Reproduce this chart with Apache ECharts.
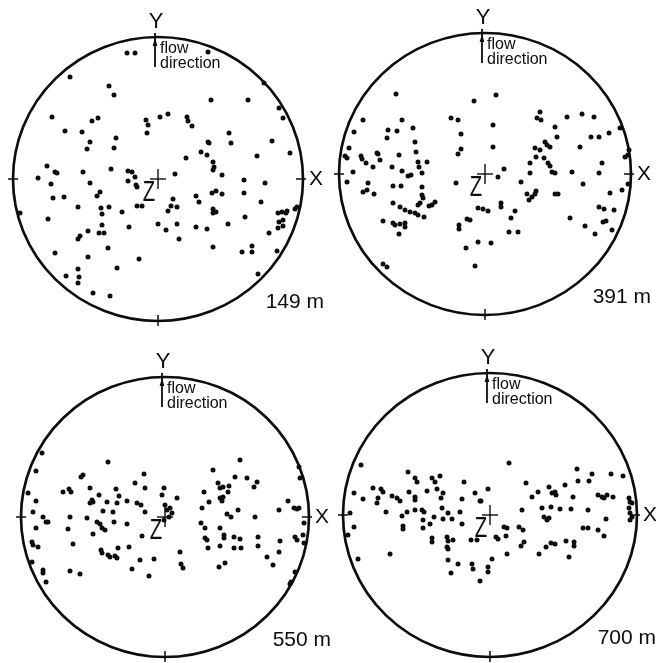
<!DOCTYPE html>
<html lang="en">
<head>
<meta charset="UTF-8"/>
<title>Fabric diagrams</title>
<script src="https://cdn.jsdelivr.net/npm/echarts@6/dist/echarts.min.js"></script>
<style>
    html, body { margin: 0; padding: 0; background: #fff; }
    #chart { width: 656px; height: 663px; }
</style>
</head>
<body>
<div id="chart"></div>
<script type="text/javascript">
// depth of each net
var depths = ['149 m', '391 m', '550 m', '700 m'];

// points, [x, y] from the centre of the net (x towards X, y towards Y)
var dots149 = [
    [-31,126],[-23,126],[-88,102],[-49,93],[-44,84],[-106,62],[-66,58],[-60,61],[-12,59],[-10,54],
    [-11,46],[-93,48],[-76,47],[-68,37],[-42,41],[-44,31],[-71,30],[-111,13],[-103,7],[-101,6],
    [-120,1],[-75,7],[-47,10],[-30,8],[-26,7],[-23,2],[-30,-2],[-22,-6],[-21,-8],[-107,-5],
    [-68,-4],[-105,-19],[-94,-18],[-58,-13],[-61,-17],[-80,-28],[-57,-29],[-49,-28],[-36,-33],[-21,-27],
    [-16,-27],[-56,-35],[-110,-40],[-56,-46],[-29,-48],[0,-45],[-70,-52],[-59,-54],[-54,-54],[-78,-57],
    [-80,-60],[-50,-69],[-103,-74],[-70,-78],[-19,-80],[-80,-90],[-41,-89],[-92,-97],[-79,-98],[-80,-104],
    [-65,-114],[-48,-117],[-138,-34],
    [50,127],[106,96],[53,79],[90,79],[121,71],[125,61],[2,62],[10,65],[29,62],[30,58],
    [34,53],[71,46],[73,36],[50,37],[51,36],[114,38],[43,27],[49,24],[28,21],[99,23],
    [132,26],[55,17],[56,12],[55,9],[64,4],[17,5],[86,-1],[107,-4],[54,-14],[58,-12],
    [64,-15],[38,-17],[86,-14],[41,-23],[15,-20],[13,-27],[10,-32],[19,-28],[55,-30],[58,-33],
    [55,-34],[103,-23],[120,-34],[124,-33],[129,-32],[128,-34],[137,-30],[139,-28],[8,-51],[19,-45],
    [38,-48],[49,-50],[70,-45],[87,-38],[121,-43],[125,-41],[120,-49],[125,-47],[111,-54],[21,-60],
    [55,-68],[84,-73],[94,-67],[94,-73],[119,-72],[100,-95]
];
var dots391 = [
    [-89,80],[-11,73],[-122,54],[-83,54],[-34,56],[-27,54],[-131,42],[-97,44],[-88,43],[-72,46],
    [-98,36],[-24,40],[-70,32],[-136,26],[-24,25],[-27,20],[-108,21],[-107,20],[-140,18],[-138,16],
    [-124,18],[-123,15],[-86,19],[-69,22],[-105,14],[-119,11],[-67,12],[-66,7],[-58,12],[-112,7],
    [-93,7],[-132,2],[-83,3],[-63,1],[-77,-2],[-74,-1],[-138,-8],[-117,-9],[-92,-12],[-84,-12],
    [-63,-13],[-29,-9],[-122,-18],[-118,-16],[-111,-20],[-63,-21],[-62,-24],[-65,-29],[-67,-31],[-92,-29],
    [-50,-28],[-53,-31],[-56,-32],[-85,-33],[-80,-36],[-75,-38],[-7,-34],[-70,-39],[-67,-41],[-61,-43],
    [-18,-45],[-15,-46],[-102,-47],[-92,-49],[-90,-51],[-85,-50],[-80,-49],[-80,-53],[-26,-51],[-26,-55],
    [-86,-60],[-7,-68],[-19,-74],[-10,-92],[-102,-90],[-98,-93],
    [11,79],[8,49],[55,62],[52,56],[56,54],[82,57],[97,60],[109,57],[70,47],[72,37],
    [106,37],[114,37],[124,41],[135,46],[8,27],[60,32],[62,29],[65,27],[50,26],[55,24],
    [51,17],[95,27],[144,24],[143,19],[140,17],[45,11],[45,1],[59,16],[63,11],[65,8],
    [67,2],[70,1],[117,11],[114,1],[87,2],[19,5],[13,-3],[36,-8],[98,-10],[143,-10],
    [137,-16],[125,-19],[51,-17],[50,-20],[47,-23],[44,-26],[42,-20],[70,-20],[73,-20],[16,-29],
    [16,-33],[-2,-35],[3,-37],[114,-33],[119,-35],[129,-36],[30,-37],[26,-44],[85,-44],[118,-48],
    [121,-47],[100,-52],[127,-56],[24,-58],[33,-58],[110,-60],[6,-69]
];
var dots550 = [
    [-123,64],[-133,-45],[-57,55],[-129,46],[-82,42],[-84,40],[-21,43],[-30,34],[-20,29],[-102,25],
    [-96,28],[-94,25],[-75,29],[-49,28],[-137,24],[-66,22],[-46,21],[-73,17],[-75,14],[-72,15],
    [-58,15],[-48,14],[-38,16],[-28,14],[-24,12],[-129,16],[-20,5],[-132,5],[-62,6],[-52,5],
    [-122,0],[-119,-5],[-117,-5],[-95,0],[-78,-1],[-68,-5],[-65,-7],[-63,-11],[-51,-5],[-38,-7],
    [-129,-11],[-97,-12],[-60,-13],[-72,-17],[-23,-19],[-133,-25],[-132,-28],[-127,-30],[-92,-27],[-36,-30],
    [-47,-31],[-64,-33],[-63,-36],[-57,-38],[-55,-40],[-50,-39],[-48,-41],[-25,-43],[-11,-42],[-122,-53],
    [-122,-56],[-95,-54],[-85,-57],[-33,-52],[-16,-59],[-119,-65],
    [75,57],[48,47],[70,40],[82,39],[53,34],[55,29],[58,30],[64,31],[63,25],[92,35],
    [89,30],[-1,29],[39,25],[-3,22],[12,19],[55,19],[57,16],[58,20],[44,15],[37,9],
    [0,12],[2,7],[5,9],[7,4],[4,0],[-1,-3],[73,7],[62,3],[66,0],[90,0],
    [123,16],[114,7],[129,9],[132,8],[134,9],[134,50],[135,39],[139,-6],[36,-6],[40,-11],
    [55,-11],[40,-21],[42,-23],[59,-18],[59,-21],[69,-20],[75,-22],[69,-31],[76,-31],[93,-20],
    [93,-29],[115,-24],[130,-20],[132,-23],[138,-18],[139,-26],[43,-31],[55,-29],[114,-35],[15,-35],
    [16,-47],[18,-51],[102,-40],[108,-48],[54,-50],[60,-46],[130,-55],[126,-65],[125,-67]
];
var dots700 = [
    [-129,50],[-82,43],[-75,37],[-73,33],[-58,37],[-55,33],[-50,39],[-26,33],[-117,27],[-109,26],
    [-107,23],[-81,23],[-63,24],[-53,26],[-47,22],[-15,22],[-136,22],[-127,16],[-112,17],[-113,12],
    [-98,19],[-93,17],[-90,14],[-75,18],[-75,15],[-49,17],[-28,16],[-10,14],[-104,3],[-83,3],
    [-75,5],[-68,5],[-66,3],[-48,7],[-30,3],[-140,2],[-88,-1],[-56,-2],[-42,2],[-38,-4],
    [-67,-5],[-60,-9],[-47,-4],[-87,-11],[-87,-14],[-67,-13],[-28,-9],[-136,-12],[-142,-20],[-58,-23],
    [-58,-27],[-43,-22],[-42,-26],[-37,-25],[-19,-25],[-13,-25],[-43,-32],[-42,-34],[-100,-39],[-132,-44],
    [-42,-45],[-32,-49],[-18,-49],[-17,-54],[-39,-58],[-10,-66],
    [19,52],[87,46],[102,41],[121,41],[133,39],[88,34],[99,34],[36,32],[75,30],[59,28],
    [65,23],[66,20],[48,23],[42,18],[62,22],[83,18],[-2,26],[-9,14],[108,20],[112,18],
    [114,17],[117,20],[123,18],[139,17],[140,13],[142,12],[139,7],[140,2],[140,-5],[142,-2],
    [52,7],[61,8],[70,6],[81,6],[98,5],[32,5],[54,-2],[57,-5],[59,-3],[116,-4],
    [29,-12],[33,-15],[14,-12],[17,-13],[93,-13],[98,-13],[108,-15],[114,-21],[6,-22],[8,-24],
    [16,-21],[34,-27],[31,-31],[76,-26],[84,-27],[84,-31],[65,-29],[61,-28],[56,-32],[17,-39],
    [49,-39],[79,-42],[2,-44],[-2,-52],[-2,-57]
];
var allDots = [dots149, dots391, dots550, dots700];

// where each net sits on the page: centre and radii in pixels
var nets = [
    {cx: 158, cy: 179, rx: 145, ry: 142},
    {cx: 485, cy: 174, rx: 146, ry: 141},
    {cx: 165, cy: 517, rx: 144, ry: 140},
    {cx: 490, cy: 515, rx: 147, ry: 142}
];

var ink = '#0d0d0d';
var font = '"Liberation Sans", Arial, sans-serif';

var grids = [], xAxes = [], yAxes = [], series = [], graphics = [];

nets.forEach(function (n, i) {
    grids.push({left: n.cx - n.rx, top: n.cy - n.ry, width: 2 * n.rx, height: 2 * n.ry});
    xAxes.push({type: 'value', gridIndex: i, min: -n.rx, max: n.rx, show: false});
    yAxes.push({type: 'value', gridIndex: i, min: -n.ry, max: n.ry, show: false});
    series.push({
        type: 'scatter',
        xAxisIndex: i,
        yAxisIndex: i,
        symbol: 'circle',
        symbolSize: 5,
        itemStyle: {color: ink, opacity: 1},
        silent: true,
        data: allDots[i]
    });

    var top = n.cy - n.ry;
    var ax = n.cx - 3; // the flow arrow sits a little left of centre
    var line = function (x1, y1, x2, y2, w) {
        graphics.push({type: 'line', silent: true, z: 10,
            shape: {x1: x1, y1: y1, x2: x2, y2: y2},
            style: {stroke: ink, lineWidth: w}});
    };
    var text = function (t, x, y, size, align, valign, sx) {
        graphics.push({type: 'text', silent: true, z: 10, x: x, y: y, scaleX: sx || 1,
            style: {text: t, x: 0, y: 0, fill: ink, font: size + 'px ' + font,
                textAlign: align, textVerticalAlign: valign, align: align, verticalAlign: valign}});
    };

    // the net outline
    graphics.push({type: 'circle', silent: true, z: 10, x: n.cx, y: n.cy, scaleX: n.rx / n.ry,
        shape: {cx: 0, cy: 0, r: n.ry},
        style: {fill: null, stroke: ink, lineWidth: 2.6}});

    // ticks on the rim
    line(n.cx - n.rx - 5, n.cy, n.cx - n.rx + 5, n.cy, 1.5);
    line(n.cx + n.rx - 7, n.cy, n.cx + n.rx + 3, n.cy, 1.5);
    line(n.cx, n.cy + n.ry - 6, n.cx, n.cy + n.ry + 5, 1.5);

    // flow arrow
    line(ax, top - 4, ax, top + 30, 1.8);
    graphics.push({type: 'polygon', silent: true, z: 10,
        shape: {points: [[ax - 2.4, top + 9], [ax, top + 1], [ax + 2.4, top + 9]]},
        style: {fill: ink}});

    // centre cross
    line(n.cx - 8, n.cy, n.cx + 8, n.cy, 1.4);
    line(n.cx, n.cy - 10, n.cx, n.cy + 10, 1.4);

    text('Y', ax + 1, top - 4, 22, 'center', 'bottom');
    text('flow', ax + 5, top + 12, 16, 'left', 'middle');
    text('direction', ax + 5, top + 27, 16, 'left', 'middle');
    text('X', n.cx + n.rx + 6, n.cy, 21, 'left', 'middle');
    text('Z', n.cx - 9, n.cy + 14, 29, 'center', 'middle', 0.7);
    text(depths[i], n.cx + 166, n.cy + 123, 21, 'right', 'middle');
});

var myChart = echarts.init(document.getElementById('chart'));
var option = {
    animation: false,
    backgroundColor: '#fff',
    grid: grids,
    xAxis: xAxes,
    yAxis: yAxes,
    series: series,
    graphic: graphics
};
myChart.setOption(option);
</script>
</body>
</html>
